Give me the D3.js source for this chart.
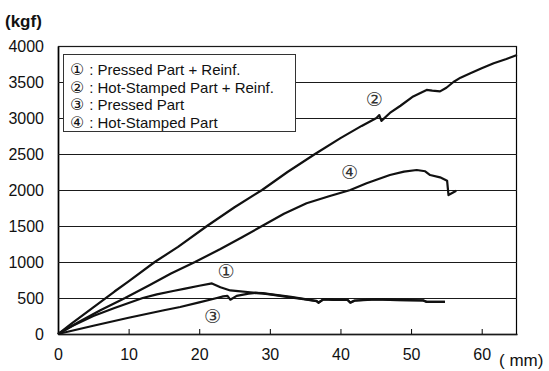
<!DOCTYPE html>
<html><head><meta charset="utf-8">
<script src="https://cdn.jsdelivr.net/npm/d3@7"></script>
<style>body{margin:0;background:#fff}svg{display:block}</style>
</head><body>
<svg id="c" width="549" height="371"></svg>
<script>
// Data (x in mm, y in kgf)
const xTicks = [0,10,20,30,40,50,60];
const yTicks = [0,500,1000,1500,2000,2500,3000,3500,4000];
const legendNums = ["①","②","③","④"];
const legendLabels = ["Pressed Part + Reinf.","Hot-Stamped Part + Reinf.","Pressed Part","Hot-Stamped Part"];

const hotReinfX = [0,2,5,8,10,13.7,17,21.1,25,28.9,32.5,36.4,40,43,45.1,45.5,45.8,47,48.5,50.3,52.2,53,54.1,55,56,57,58.4,60,61.7,63.5,65];
const hotReinfY = [0,150,370,590,730,1000,1210,1500,1760,2000,2250,2500,2720,2890,3000,3040,2960,3070,3170,3300,3390,3380,3370,3420,3500,3560,3620,3690,3760,3820,3875];

const hotX = [0,3,6,9.5,13,16,19.4,23,26,28.9,32,35.2,38.5,41.4,43.7,47,49,50.8,52,52.7,54.1,55.1,55.3,56.4];
const hotY = [0,170,330,500,680,840,1000,1180,1340,1500,1670,1815,1917,2000,2093,2208,2255,2278,2260,2208,2176,2130,1930,1990];

const pressReinfX = [0,2,5,8,10,12,14,16.3,18,20,21.8,23,24.4,25.5,27.2,29.1,30,32.9,35,36.6,36.9,37.6,39,41,41.4,42,45,48,51.7,52.2,54.8];
const pressReinfY = [0,110,250,360,430,500,550,597,630,670,703,650,605,595,580,560,550,508,480,455,432,480,475,472,435,462,480,470,465,445,445];

const pressX = [0,5,10,15,17.3,20,22.5,23.4,24,24.4,25.3,27,28,29,30,33,35,36.6,36.9,37.6,39,41,41.4,42,45,48,51.7,52.2,54.8];
const pressY = [0,115,225,330,375,440,500,522,530,476,530,560,570,568,555,515,485,460,440,484,478,475,438,465,483,473,468,448,448];

const marks = [
  {label:"①", x:23.8, y:875},
  {label:"②", x:44.8, y:3260},
  {label:"③", x:21.9, y:255},
  {label:"④", x:41.3, y:2245}
];

const svg = d3.select("#c");
const L=58, R=517, T=46, B=334;
const xS = d3.scaleLinear().domain([0,65]).range([L,R]);
const yS = d3.scaleLinear().domain([0,4000]).range([B,T]);
const FONT = "'Liberation Sans', Arial, sans-serif";
const CFONT = "'DejaVu Sans', 'Noto Sans CJK KR', sans-serif";

// frame
svg.append("rect").attr("x",L+0.5).attr("y",T+0.5).attr("width",R-L-1).attr("height",B-T)
  .attr("fill","none").attr("stroke","#000").attr("stroke-width",1.2);

// x axis
const xa = svg.append("g").attr("transform",`translate(0,${B})`)
  .call(d3.axisBottom(xS).tickValues(xTicks).tickSizeInner(-5).tickSizeOuter(0).tickPadding(15));
xa.select(".domain").attr("stroke","#000").attr("stroke-width",1.6);
xa.selectAll(".tick line").attr("stroke","#000");
xa.selectAll("text").attr("font-family",FONT).attr("font-size",16).attr("fill","#111");

// y axis with full-width gridlines as its tick lines
const ya = svg.append("g").attr("transform",`translate(${L},0)`)
  .call(d3.axisLeft(yS).tickValues(yTicks).tickFormat(d3.format("d")).tickSizeInner(-(R-L)).tickSizeOuter(0).tickPadding(14));
ya.select(".domain").attr("stroke","#000").attr("stroke-width",1.6);
ya.selectAll(".tick line").attr("stroke","#1a1a1a").attr("stroke-width",1.2);
ya.selectAll("text").attr("font-family",FONT).attr("font-size",16).attr("fill","#111");

// units
svg.append("text").attr("x",5).attr("y",27).attr("font-family",FONT).attr("font-size",17)
  .attr("font-weight","bold").attr("fill","#111").text("(kgf)");
svg.append("text").attr("x",499).attr("y",366).attr("font-family",FONT).attr("font-size",17)
  .attr("fill","#111").text("( mm)");

// lines
const line = d3.line().x(d=>xS(d[0])).y(d=>yS(d[1]));
const series = [
  [pressX,pressY],[pressReinfX,pressReinfY],[hotX,hotY],[hotReinfX,hotReinfY]
];
series.forEach(([xs,ys])=>{
  svg.append("path").datum(xs.map((v,i)=>[v,ys[i]]))
    .attr("d",line).attr("fill","none").attr("stroke","#111")
    .attr("stroke-width",2.2).attr("stroke-linejoin","round");
});

// curve markers
svg.append("g").selectAll("text").data(marks).join("text")
  .attr("x",d=>xS(d.x)).attr("y",d=>yS(d.y)).attr("text-anchor","middle")
  .attr("dominant-baseline","central")
  .attr("font-family",CFONT).attr("font-size",19).attr("fill","#333").text(d=>d.label);

// legend
const lg = svg.append("g");
lg.append("rect").attr("x",63.5).attr("y",54.5).attr("width",232).attr("height",77)
  .attr("fill","#fff").attr("stroke","#333").attr("stroke-width",1);
legendLabels.forEach((t,i)=>{
  const yy = 69 + i*17.7;
  const tx = lg.append("text").attr("x",70).attr("y",yy).attr("dominant-baseline","central")
    .attr("font-family",FONT).attr("font-size",15).attr("fill","#111");
  tx.append("tspan").attr("font-family",CFONT).attr("font-size",16).text(legendNums[i]);
  tx.append("tspan").attr("dx",5).text(":");
  tx.append("tspan").attr("dx",4).text(t);
});
</script>
</body></html>
